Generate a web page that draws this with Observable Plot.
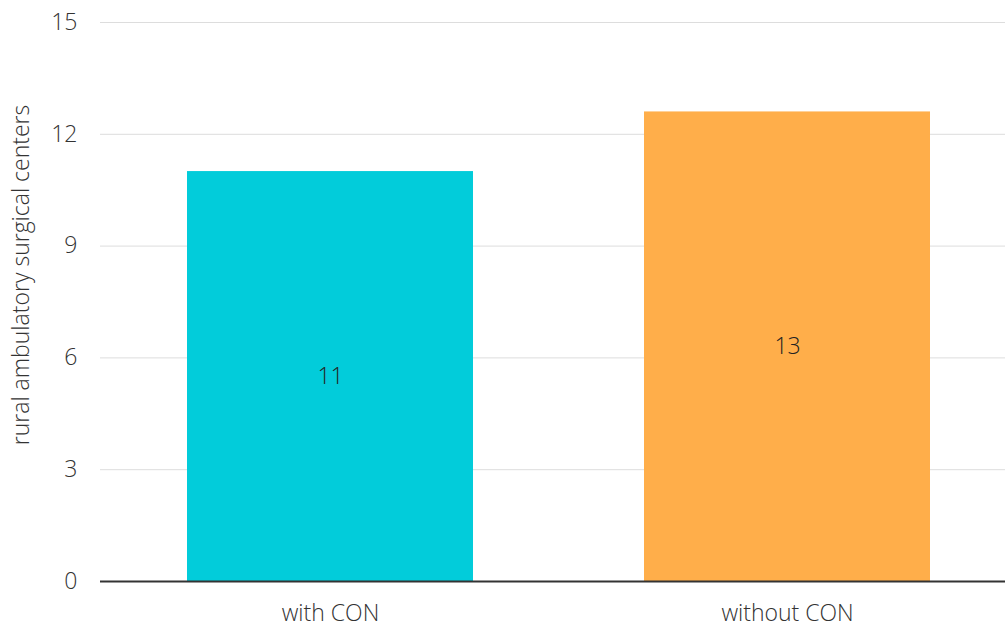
<!DOCTYPE html>
<html>
<head>
<meta charset="utf-8">
<script src="https://cdn.jsdelivr.net/npm/d3@7"></script>
<script src="https://cdn.jsdelivr.net/npm/@observablehq/plot@0.6"></script>
<style>
  html, body { margin: 0; padding: 0; background: #fff; }
  #chart svg { font-family: "Open Sans", Lato, sans-serif; font-weight: 300; }
</style>
</head>
<body>
<div id="chart"></div>
<script>
const categories = ["with CON", "without CON"];
const values = [11.0, 12.6];
const colors = ["#02CCDA", "#FFAE4A"];
const yTicks = [0, 3, 6, 9, 12, 15];
const yLabel = "rural ambulatory surgical centers";

const data = categories.map((c, i) => ({category: c, value: values[i], color: colors[i]}));

const chart = Plot.plot({
  width: 1005,
  height: 629,
  marginLeft: 100,
  marginRight: 0,
  marginTop: 22,
  marginBottom: 48,
  style: {fontSize: "23px", color: "#333", background: "#fff"},
  x: {domain: categories, paddingInner: 0.374, paddingOuter: 0.177, align: 0.537, label: null},
  y: {domain: [0, 15], ticks: yTicks, label: yLabel},
  marks: [
    Plot.gridY(yTicks.filter(t => t > 0), {stroke: "#dddddd", strokeOpacity: 1, strokeWidth: 1}),
    Plot.barY(data, {x: "category", y: "value", fill: "color"}),
    Plot.ruleY([0], {stroke: "#333", strokeWidth: 2}),
    Plot.text(data, {x: "category", y: d => d.value / 2, text: d => String(Math.round(d.value)), fill: "#222", fontSize: 23, fontWeight: 300}),
    Plot.axisY(yTicks, {tickSize: 0, tickPadding: 23, fontSize: 23, label: yLabel, labelAnchor: "center", labelArrow: "none", labelOffset: 88}),
    Plot.axisX({tickSize: 0, tickPadding: 23, fontSize: 23, label: null})
  ]
});
const lab = d3.select(chart).select('g[aria-label="y-axis label"]');
if (!lab.empty()) lab.attr("transform", (lab.attr("transform") || "") + " translate(0,-27)");
document.getElementById("chart").appendChild(chart);
</script>
</body>
</html>
